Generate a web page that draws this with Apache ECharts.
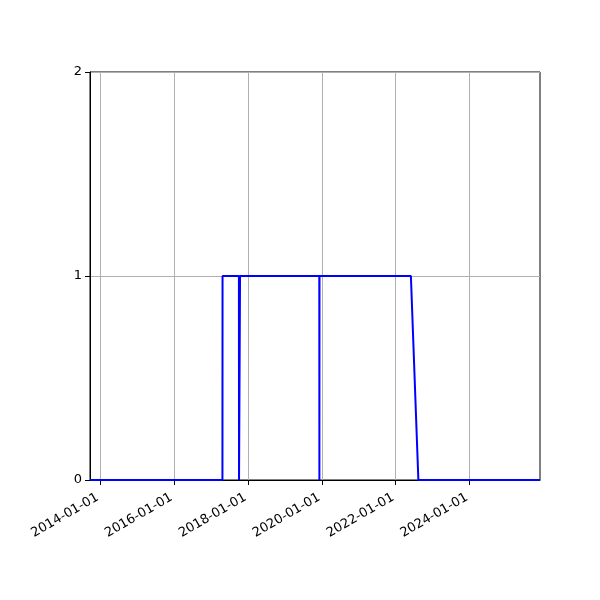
<!DOCTYPE html>
<html>
<head>
<meta charset="utf-8">
<script src="https://cdn.jsdelivr.net/npm/echarts@6/dist/echarts.min.js"></script>
<style>html,body{margin:0;padding:0;background:#fff}#c{width:600px;height:600px}</style>
</head>
<body>
<div id="c"></div>
<script>
const dates = ['2013-09-21','2017-04-23','2017-04-24','2017-10-03','2017-10-04','2017-10-13','2017-10-14','2019-12-07','2019-12-08','2019-12-09','2022-05-31','2022-08-13','2025-11-28'];
const values = [0,0,1,1,0,0,1,1,0,1,1,0,0];
const xTicks = ['2014-01-01','2016-01-01','2018-01-01','2020-01-01','2022-01-01','2024-01-01'];
const yTicks = [0,1,2];

const ts = s => { const p = s.split('-').map(Number); return Date.UTC(p[0], p[1]-1, p[2]); };
const pad = n => (n < 10 ? '0' : '') + n;
const fmt = v => { const d = new Date(v); return d.getUTCFullYear() + '-' + pad(d.getUTCMonth()+1) + '-' + pad(d.getUTCDate()); };

const chart = echarts.init(document.getElementById('c'), null, {renderer: 'canvas'});
const font = 'DejaVu Sans';
chart.setOption({
  animation: false,
  backgroundColor: '#fff',
  grid: {left: 90, right: 60, top: 72, bottom: 120, show: true, borderColor: '#000', borderWidth: 1, backgroundColor: 'transparent'},
  xAxis: {
    type: 'value',
    min: ts(dates[0]),
    max: ts(dates[dates.length-1]),
    axisLine: {show: true, lineStyle: {color: '#000', width: 1}},
    axisTick: {show: true, length: 5, lineStyle: {color: '#000', width: 1}, customValues: xTicks.map(ts)},
    axisLabel: {show: true, rotate: 30, margin: 15, padding: [0, 3, 0, 0], color: '#000', fontFamily: font, fontSize: 13,
      customValues: xTicks.map(ts), formatter: v => fmt(v), hideOverlap: false, showMinLabel: true, showMaxLabel: true},
    splitLine: {show: true, lineStyle: {color: '#b0b0b0', width: 1}}
  },
  yAxis: {
    type: 'value',
    min: yTicks[0],
    max: yTicks[yTicks.length-1],
    interval: 1,
    axisLine: {show: true, lineStyle: {color: '#000', width: 1}},
    axisTick: {show: true, length: 5, lineStyle: {color: '#000', width: 1}},
    axisLabel: {color: '#000', fontFamily: font, fontSize: 13, margin: 8},
    splitLine: {show: true, lineStyle: {color: '#b0b0b0', width: 1}}
  },
  series: [{
    type: 'line',
    data: dates.map((d, i) => [ts(d), values[i]]),
    showSymbol: false,
    symbol: 'none',
    lineStyle: {color: '#0000ff', width: 2},
    itemStyle: {color: '#0000ff'},
    z: 5
  }]
});
</script>
</body>
</html>
